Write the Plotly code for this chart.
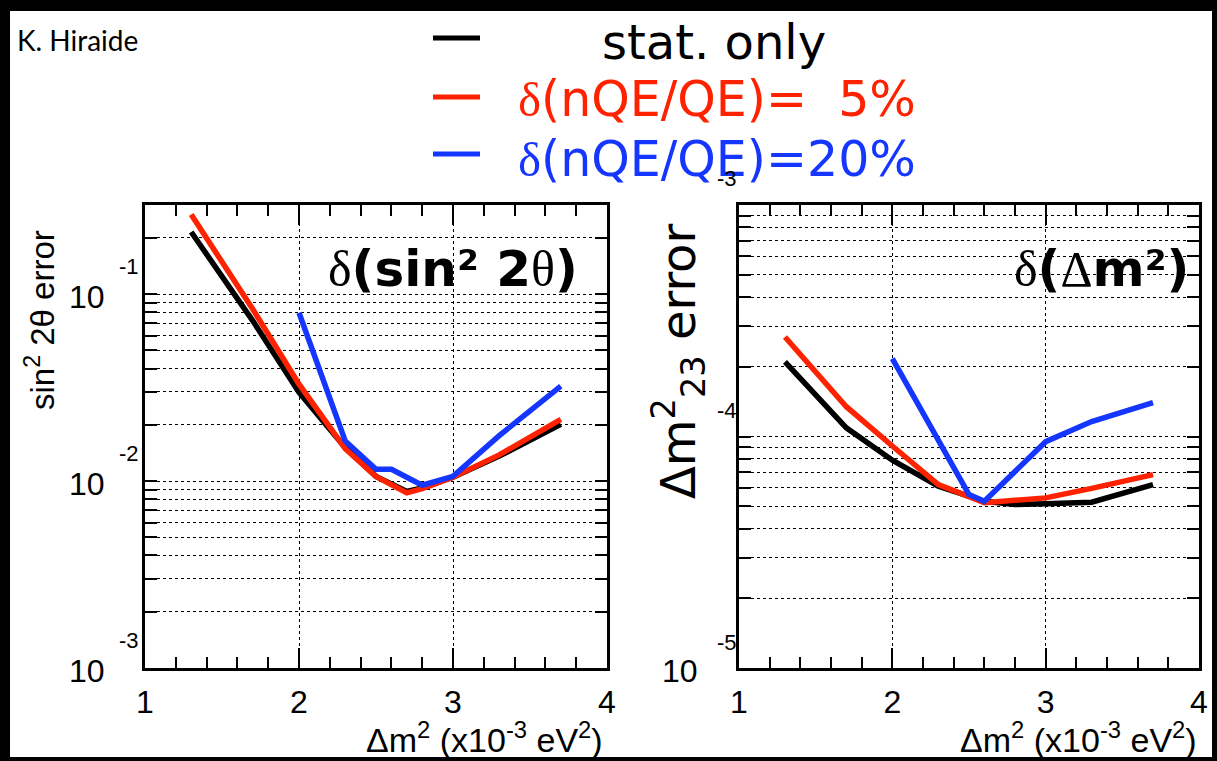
import plotly.graph_objects as go
import math

W, H = 1217, 761

# ---------------- data ----------------
# left panel: sin^2 2theta error vs dm^2 (x1e-3 eV^2)
dm2_stat_l = [1.3, 1.7, 2.0, 2.3, 2.5, 2.7, 2.8, 3.0, 3.3, 3.7]
sin_err_stat = [0.215, 0.072, 0.0298, 0.0151, 0.0106, 0.0088, 0.0092, 0.0105, 0.0136, 0.0201]

dm2_5_l = [1.3, 1.7, 2.0, 2.3, 2.5, 2.7, 2.8, 3.0, 3.3, 3.7]
sin_err_5 = [0.267, 0.083, 0.0330, 0.0149, 0.0106, 0.00865, 0.0091, 0.0105, 0.0138, 0.0214]

dm2_20_l = [2.0, 2.3, 2.5, 2.6, 2.8, 3.0, 3.3, 3.7]
sin_err_20 = [0.0796, 0.0164, 0.01156, 0.01156, 0.0095, 0.0106, 0.0175, 0.0322]

# right panel: dm^2_23 error
dm2_stat_r = [1.3, 1.7, 2.0, 2.3, 2.6, 2.8, 3.0, 3.3, 3.7]
dm_err_stat = [2.10e-4, 1.09e-4, 7.9e-5, 6.1e-5, 5.25e-5, 5.08e-5, 5.12e-5, 5.2e-5, 6.2e-5]

dm2_5_r = [1.3, 1.7, 2.0, 2.3, 2.6, 3.0, 3.3, 3.7]
dm_err_5 = [2.69e-4, 1.345e-4, 9.1e-5, 6.2e-5, 5.18e-5, 5.43e-5, 5.97e-5, 6.84e-5]

dm2_20_r = [2.0, 2.5, 2.6, 3.0, 3.3, 3.7]
dm_err_20 = [2.17e-4, 5.61e-5, 5.25e-5, 9.5e-5, 1.16e-4, 1.40e-4]

x_ticks = [1, 2, 3, 4]
x_ticktext = ["1", "2", "3", "4"]
series_names = ["stat. only", "δ(nQE/QE)=  5%", "δ(nQE/QE)=20%"]

BLACK = "#000000"
RED = "#ff2200"
BLUE = "#1536ff"


def fx(p):
    return p / W


def fy(p):
    return 1 - p / H


fig = go.Figure()

for xs, ys, col, nm in [(dm2_stat_l, sin_err_stat, BLACK, series_names[0]),
                        (dm2_5_l, sin_err_5, RED, series_names[1]),
                        (dm2_20_l, sin_err_20, BLUE, series_names[2])]:
    fig.add_trace(go.Scatter(x=xs, y=ys, mode="lines", name=nm,
                             line=dict(color=col, width=5.5),
                             xaxis="x", yaxis="y", showlegend=False))

for xs, ys, col, nm in [(dm2_stat_r, dm_err_stat, BLACK, series_names[0]),
                        (dm2_5_r, dm_err_5, RED, series_names[1]),
                        (dm2_20_r, dm_err_20, BLUE, series_names[2])]:
    fig.add_trace(go.Scatter(x=xs, y=ys, mode="lines", name=nm,
                             line=dict(color=col, width=5.5),
                             xaxis="x2", yaxis="y2", showlegend=False))

GRID = dict(showgrid=True, gridcolor="black", griddash="3px,3px", gridwidth=1.3)


def xax(domain, anchor):
    d = dict(domain=domain, anchor=anchor, range=[1, 4],
             tickmode="array", tickvals=x_ticks, ticktext=x_ticktext,
             ticks="inside", ticklen=20, tickwidth=1.5, tickcolor="black",
             minor=dict(dtick=0.2, tick0=1, ticks="inside", ticklen=11,
                        tickwidth=1.5, tickcolor="black", showgrid=False),
             showline=True, linewidth=3, linecolor="black", mirror="ticks",
             tickfont=dict(family="Liberation Sans", size=32, color="black"),
             ticklabelstandoff=4, zeroline=False, fixedrange=True, automargin=False)
    d.update(GRID)
    return d


def yax(domain, anchor, lo, hi):
    vals = [m * 10.0 ** e for e in range(math.floor(lo), math.ceil(hi) + 1)
            for m in range(1, 10)]
    d = dict(domain=domain, anchor=anchor, type="log", range=[lo, hi],
             tickmode="array", tickvals=vals, showticklabels=False,
             ticks="inside", ticklen=12, tickwidth=1.5, tickcolor="black",
             showline=True, linewidth=3, linecolor="black", mirror="ticks",
             zeroline=False, fixedrange=True, automargin=False)
    d.update(GRID)
    return d


ydom = [fy(668), fy(205)]
fig.update_layout(
    width=W, height=H,
    margin=dict(l=0, r=0, t=0, b=0, autoexpand=False),
    paper_bgcolor="black", plot_bgcolor="white",
    xaxis=xax([fx(145), fx(607)], "y"),
    yaxis=yax(ydom, "x", -3, math.log10(0.3)),
    xaxis2=xax([fx(739), fx(1199)], "y2"),
    yaxis2=yax(ydom, "x2", -5, -3),
)

shapes = [dict(type="rect", xref="paper", yref="paper", layer="below",
               x0=fx(10), x1=fx(1212), y0=fy(757), y1=fy(11),
               fillcolor="white", line=dict(width=0))]
for yy, col in [(38, BLACK), (97, RED), (154, BLUE)]:
    shapes.append(dict(type="line", xref="paper", yref="paper",
                       x0=fx(433), x1=fx(480), y0=fy(yy), y1=fy(yy),
                       line=dict(color=col, width=5)))
fig.update_layout(shapes=shapes)

SERIF = "font-family:Liberation Serif;font-weight:normal"
ann = []


def A(text, x, y, size, color="black", family="Liberation Sans", xanchor="center",
      yanchor="middle", angle=0, weight="normal", xref="paper", yref="paper", yshift=0):
    ann.append(dict(text=text, x=x, y=y, xref=xref, yref=yref, showarrow=False,
                    xanchor=xanchor, yanchor=yanchor, textangle=angle, yshift=yshift,
                    font=dict(family=family, size=size, color=color, weight=weight)))


A("K. Hiraide", fx(15), fy(40), 28, family="Lato", xanchor="left")
A(series_names[0], fx(714), fy(42), 48, family="DejaVu Sans")
A(f'<span style="{SERIF}">δ</span>(nQE/QE)=\u00a0\u00a05%', fx(918), fy(100), 49,
  color=RED, family="DejaVu Sans", xanchor="right")
A(f'<span style="{SERIF}">δ</span>(nQE/QE)=20%', fx(918), fy(159), 49,
  color=BLUE, family="DejaVu Sans", xanchor="right")

A(f'<span style="{SERIF}">δ</span>(sin² 2<span style="{SERIF}">θ</span>)',
  fx(580), fy(269), 50, family="DejaVu Sans", xanchor="right", weight="bold")
A(f'<span style="{SERIF}">δ</span>(<span style="{SERIF}">Δ</span>m²)',
  fx(1191), fy(269), 50, family="DejaVu Sans", xanchor="right", weight="bold")

A("sin<sup>2</sup> 2θ error", fx(40), fy(320), 33, angle=-90)
A("Δm<sup>2</sup><sub>23</sub> error", fx(678), fy(362), 48, family="DejaVu Sans", angle=-90)

xt = "Δm<sup>2</sup> (x10<sup>-3</sup> eV<sup>2</sup>)"
A(xt, fx(605), fy(737), 34, xanchor="right")
A(xt, fx(1199), fy(737), 34, xanchor="right")

# y tick labels (10 with exponent placed ROOT-style)
for e in [-1, -2, -3]:
    A("10", fx(87), e, 32, xref="paper", yref="y", yshift=-3)
    A(str(e), fx(129), e, 22, xref="paper", yref="y", yshift=28)
A("10", fx(680), -5, 32, xref="paper", yref="y2", yshift=-3)
for e in [-5, -4, -3]:
    A(str(e), fx(727), e, 22, xref="paper", yref="y2", yshift=26)

fig.update_layout(annotations=ann)
fig.write_html("out.html", config={"displayModeBar": False},
               post_script="document.body.style.margin='0';document.body.style.overflow='hidden';")
